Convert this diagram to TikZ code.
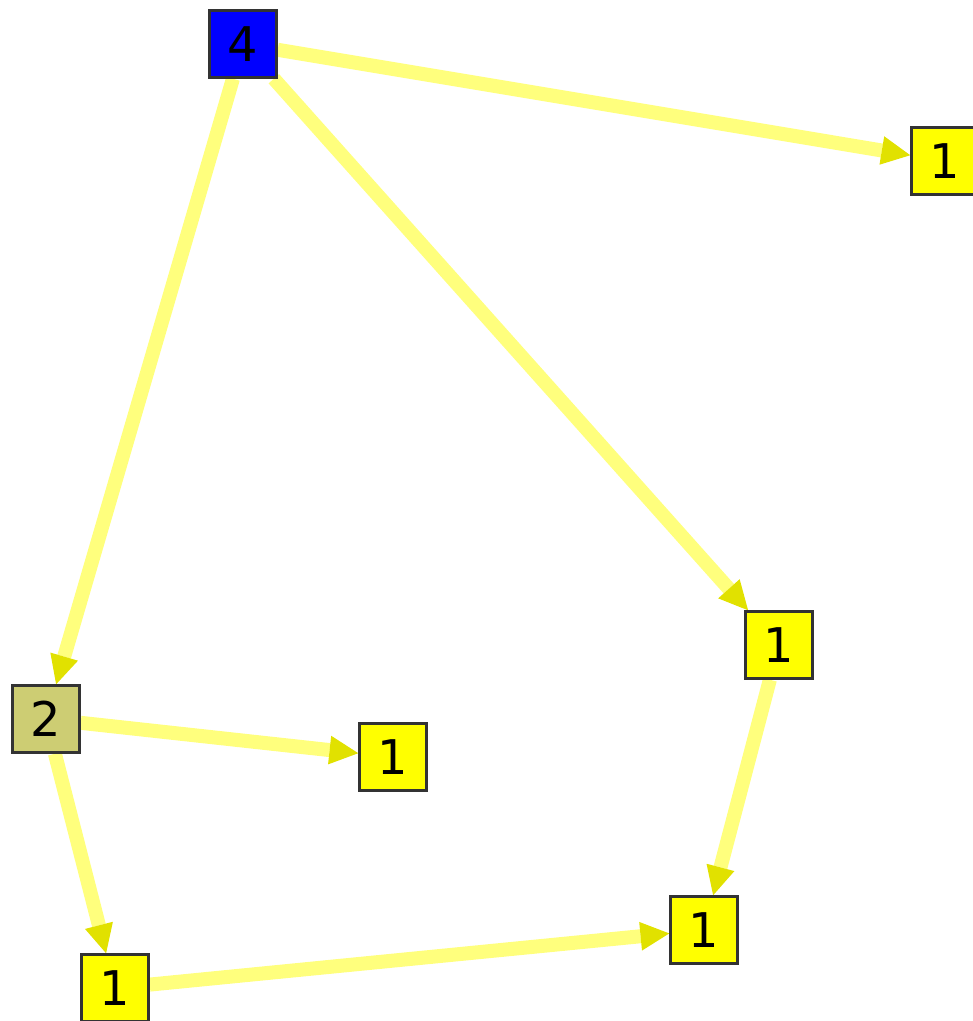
\documentclass[tikz,border=0pt]{standalone}
\usepackage{fontspec}
\setmainfont{DejaVu Sans}
\usetikzlibrary{arrows.meta, backgrounds}
\definecolor{nodeblue}{RGB}{0,0,255}
\definecolor{nodekhaki}{RGB}{205,205,115}
\definecolor{nodeyellow}{RGB}{255,255,0}
\definecolor{edgeyellow}{RGB}{255,255,125}
\definecolor{tipyellow}{RGB}{225,225,0}
\begin{document}
\begin{tikzpicture}[
    x=0.025cm, y=-0.025cm,
    box/.style={rectangle, draw=black!80, line width=1.6pt, minimum size=1.68cm, inner sep=0pt, font=\fontsize{34}{34}\selectfont},
    leaf/.style={box, fill=nodeyellow},
    link/.style={draw=edgeyellow, line width=0.35cm, -{Triangle[length=0.72cm, width=0.72cm, line width=0pt, color=tipyellow]}}
]
    \useasboundingbox (0,0) rectangle (973,1021);

    % --- NODES ---
    \node[box, fill=nodeblue] (root) at (243,44) {4};
    \node[leaf] (topright) at (945,161) {1};
    \node[leaf] (midright) at (779,645) {1};
    \node[box, fill=nodekhaki] (two) at (46,719) {2};
    \node[leaf] (midleft) at (393,757) {1};
    \node[leaf] (lowright) at (704,930) {1};
    \node[leaf] (lowleft) at (115,988) {1};

    % --- EDGES (behind the boxes) ---
    \begin{scope}[on background layer]
        \draw[link] (root) -- (topright);
        \draw[link] (root) -- (midright);
        \draw[link] (root) -- (two);
        \draw[link] (two) -- (midleft);
        \draw[link] (two) -- (lowleft);
        \draw[link] (lowleft) -- (lowright);
        \draw[link] (midright) -- (lowright);
    \end{scope}
\end{tikzpicture}
\end{document}
